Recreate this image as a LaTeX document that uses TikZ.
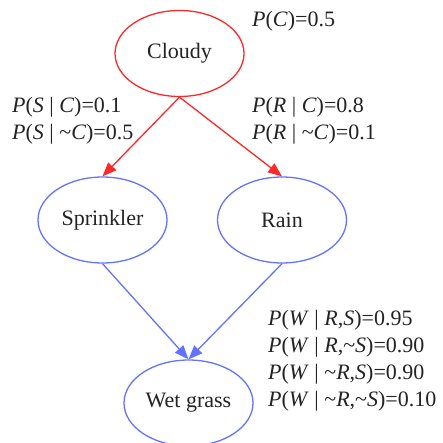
\documentclass[tikz,border=0pt]{standalone}
\usepackage{fontspec}
\setmainfont{Liberation Serif}
\usetikzlibrary{shapes.geometric,arrows.meta}
\definecolor{cred}{RGB}{255,40,40}
\definecolor{cblue}{RGB}{100,115,255}
\definecolor{ctext}{RGB}{35,35,35}
\newcommand{\iv}[1]{\textit{#1}}
\newcommand{\tld}{\textasciitilde}
\begin{document}
\begin{tikzpicture}[x=1pt,y=-1pt,
  font=\fontsize{22}{26}\selectfont,
  bnode/.style={ellipse, draw, line width=1.3pt, minimum width=129pt, minimum height=86pt, inner sep=0pt, text=ctext},
  rednode/.style={bnode, draw=cred},
  bluenode/.style={bnode, draw=cblue},
  redarrow/.style={draw=cred, line width=1.3pt, -{Triangle[length=14pt,width=11pt]}},
  bluearrow/.style={draw=cblue, line width=1.3pt, -{Triangle[length=14pt,width=11pt]}},
  prob/.style={anchor=base west, inner sep=0pt, text=ctext}]
\useasboundingbox (0,0) rectangle (443,443);
\node[rednode] (c) at (179.5,53.5) {Cloudy};
\node[bluenode] (s) at (102.5,220) {Sprinkler};
\node[bluenode] (r) at (282,220) {Rain};
\node[bluenode] (w) at (188.5,403) {Wet grass};
\draw[redarrow] (c.south) -- (s.north);
\draw[redarrow] (c.south) -- (r.north);
\draw[bluearrow] (s.south) -- (w.north);
\draw[bluearrow] (r.south) -- (w.north);
\node[prob] (pc) at (252,27) {\iv{P}(\iv{C})=0.5};
\node[prob] (ps1) at (12,113) {\iv{P}(\iv{S} | \iv{C})=0.1};
\node[prob] (ps2) at (12,140) {\iv{P}(\iv{S} | \tld\iv{C})=0.5};
\node[prob] (pr1) at (252,113) {\iv{P}(\iv{R} | \iv{C})=0.8};
\node[prob] (pr2) at (252,140) {\iv{P}(\iv{R} | \tld\iv{C})=0.1};
\node[prob] (pw1) at (268,325) {\iv{P}(\iv{W} | \iv{R},\iv{S})=0.95};
\node[prob] (pw2) at (268,352) {\iv{P}(\iv{W} | \iv{R},\tld\iv{S})=0.90};
\node[prob] (pw3) at (268,379) {\iv{P}(\iv{W} | \tld\iv{R},\iv{S})=0.90};
\node[prob] (pw4) at (268,406) {\iv{P}(\iv{W} | \tld\iv{R},\tld\iv{S})=0.10};
\end{tikzpicture}
\end{document}
